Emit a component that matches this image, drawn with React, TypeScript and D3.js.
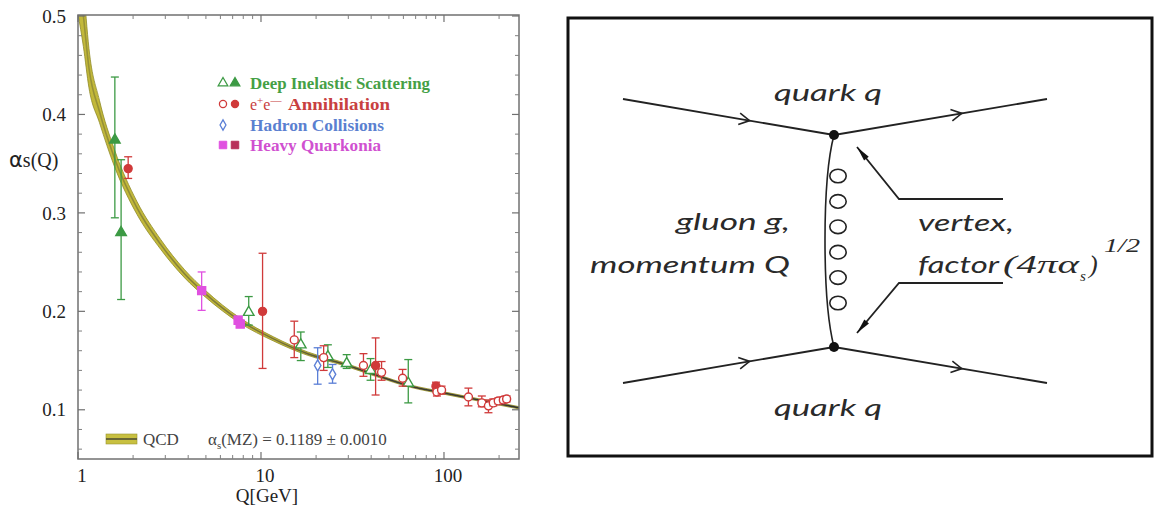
import React from 'react';
import * as d3 from 'd3';

// ---------- data ----------
const yTickValues = [0.1, 0.2, 0.3, 0.4, 0.5];
const yTickLabels = ['0.1', '0.2', '0.3', '0.4', '0.5'];
const xTickValues = [1, 10, 100];
const xTickLabels = ['1', '10', '100'];

// QCD running coupling band (centre and half-width)
const qcdQ = [1.0, 1.07, 1.148, 1.31, 1.58, 2.1, 2.83, 3.83, 4.96, 7.62, 11.7, 18, 27.7, 42.7, 65.6, 100, 155, 257];
const qcdAlpha = [0.545, 0.5, 0.447, 0.403, 0.356, 0.305, 0.268, 0.238, 0.218, 0.191, 0.172, 0.157, 0.147, 0.135, 0.124, 0.117, 0.11, 0.102];
const qcdHalf = [0.043, 0.031, 0.02, 0.0113, 0.0086, 0.0065, 0.005, 0.0041, 0.0034, 0.0027, 0.0021, 0.0017, 0.0015, 0.0013, 0.0012, 0.0012, 0.0012, 0.0012];

// [Q, alpha, errLow, errHigh, filled(1)/open(0)]
const disPoints = [
  [1.59, 0.374, 0.295, 0.438, 1],
  [1.72, 0.28, 0.212, 0.354, 1],
  [8.57, 0.199, 0.186, 0.215, 0],
  [16.5, 0.166, 0.15, 0.179, 0],
  [23.2, 0.154, 0.143, 0.166, 0],
  [29.4, 0.147, 0.142, 0.156, 0],
  [39.7, 0.14, 0.13, 0.152, 0],
  [63.8, 0.127, 0.107, 0.151, 0],
];
const eePoints = [
  [1.88, 0.345, 0.335, 0.357, 1],
  [10.2, 0.2, 0.142, 0.259, 1],
  [15.2, 0.171, 0.153, 0.19, 0],
  [22.0, 0.153, 0.14, 0.165, 0],
  [36.3, 0.145, 0.134, 0.157, 0],
  [42.3, 0.145, 0.115, 0.173, 1],
  [45.6, 0.138, 0.13, 0.149, 0],
  [59.4, 0.132, 0.124, 0.141, 0],
  [90.4, 0.124, 0.12, 0.128, 1],
  [91.5, 0.118, 0.114, 0.123, 0],
  [97, 0.12, 0.116, 0.124, 0],
  [136, 0.113, 0.104, 0.122, 0],
  [161, 0.107, 0.103, 0.114, 0],
  [175, 0.104, 0.097, 0.11, 0],
  [186, 0.107, 0.104, 0.111, 0],
  [198, 0.109, 0.106, 0.112, 0],
  [211, 0.11, 0.107, 0.113, 0],
  [220, 0.111, 0.108, 0.114, 0],
];
const hadronPoints = [
  [20.4, 0.145, 0.126, 0.163, 0],
  [24.6, 0.136, 0.127, 0.146, 0],
];
const quarkoniaPoints = [
  [4.74, 0.221, 0.201, 0.24, 1],
  [7.5, 0.191, 0.187, 0.195, 1],
  [7.7, 0.187, 0.184, 0.191, 1],
];

const legendLabels = ['Deep Inelastic Scattering', 'Annihilation', 'Hadron Collisions', 'Heavy Quarkonia'];

const GREEN = '#3c9a44';
const RED = '#d03a3a';
const BLUE = '#5b7fd6';
const MAGENTA = '#e050e0';

const SERIF = '"Liberation Serif", "Times New Roman", serif';
const SANS_IT = 'Lato, "Open Sans", sans-serif';

function ErrPoint({ d, color, shape, x, y }: any) {
  const [q, a, lo, hi, filled] = d;
  const cx = x(q);
  const cy = y(a);
  const sym = d3.symbol().type(shape === 'tri' ? d3.symbolTriangle : shape === 'dia' ? d3.symbolDiamond : shape === 'sq' ? d3.symbolSquare : d3.symbolCircle)
    .size(shape === 'tri' ? 48 : shape === 'dia' ? 36 : shape === 'sq' ? 64 : 50)();
  const cap = 4;
  return (
    <g>
      <line x1={cx} x2={cx} y1={y(lo)} y2={y(hi)} stroke={color} strokeWidth={1.3} />
      <line x1={cx - cap} x2={cx + cap} y1={y(lo)} y2={y(lo)} stroke={color} strokeWidth={1.3} />
      <line x1={cx - cap} x2={cx + cap} y1={y(hi)} y2={y(hi)} stroke={color} strokeWidth={1.3} />
      <path d={sym as string} transform={`translate(${cx},${cy})`} fill={filled ? color : '#fff'} stroke={color} strokeWidth={1.4} />
    </g>
  );
}

function chevron(px: number, py: number, ang: number, L: number, phi: number) {
  const a1 = ang + Math.PI - phi;
  const a2 = ang + Math.PI + phi;
  return `M${px + L * Math.cos(a1)},${py + L * Math.sin(a1)} L${px},${py} L${px + L * Math.cos(a2)},${py + L * Math.sin(a2)}`;
}
function headTri(px: number, py: number, ang: number, L: number, w: number) {
  const bx = px - L * Math.cos(ang);
  const by = py - L * Math.sin(ang);
  const nx = -Math.sin(ang) * w;
  const ny = Math.cos(ang) * w;
  return `M${px},${py} L${bx + nx},${by + ny} L${bx - nx},${by - ny} Z`;
}

export default function App() {
  const x = d3.scaleLog().domain([1, 257]).range([78, 519]);
  const y = d3.scaleLinear().domain([0.05, 0.5]).range([459, 16]);
  const left = 78, right = 519, top = 15, bottom = 459;

  const qcd = qcdQ.map((q, i) => ({ q, a: qcdAlpha[i], h: qcdHalf[i] }));
  const area = d3.area<any>().x((d) => x(d.q)).y0((d) => y(d.a - d.h)).y1((d) => y(d.a + d.h)).curve(d3.curveMonotoneX);
  const line = d3.line<any>().x((d) => x(d.q)).y((d) => y(d.a)).curve(d3.curveMonotoneX);

  const yMinor = d3.range(3, 25).map((i) => +(i * 0.02).toFixed(2)).filter((v) => Math.abs(v * 10 - Math.round(v * 10)) > 1e-6);
  const xMinor: number[] = [];
  [1, 10, 100].forEach((dec) => { for (let k = 2; k <= 9; k++) if (k * dec < 257) xMinor.push(k * dec); });

  // Feynman diagram geometry
  const quarkLines = [
    [623, 99, 834, 135],
    [834, 135, 1047, 99],
    [623, 383, 834, 347],
    [834, 347, 1047, 383],
  ];
  const loopsY = [176, 201.4, 226.8, 252.2, 277.6, 303];
  const pointers = [
    [1003, 199, 899, 199, 857, 147],
    [1003, 283, 899, 283, 857, 333],
  ];

  const legendY = [83, 104, 125, 145];
  const tri = d3.symbol().type(d3.symbolTriangle).size(40)() as string;
  const circ = d3.symbol().type(d3.symbolCircle).size(40)() as string;
  const dia = d3.symbol().type(d3.symbolDiamond).size(30)() as string;
  const sq = d3.symbol().type(d3.symbolSquare).size(56)() as string;

  return (
    <svg width={1163} height={510} style={{ position: 'absolute', left: 0, top: 0, background: '#fff' }}>
      <rect x={0} y={0} width={1163} height={510} fill="#fff" />
      <defs>
        <clipPath id="plotClip"><rect x={left} y={top} width={right - left} height={bottom - top} /></clipPath>
        <linearGradient id="lineGrad" gradientUnits="userSpaceOnUse" x1={left} x2={right} y1={0} y2={0}>
          <stop offset="0" stopColor="#9a9436" />
          <stop offset="0.45" stopColor="#76733a" />
          <stop offset="0.65" stopColor="#3e3e36" />
          <stop offset="1" stopColor="#333333" />
        </linearGradient>
      </defs>

      {/* ---------- left chart ---------- */}
      <g clipPath="url(#plotClip)">
        <path d={area(qcd) as string} fill="#c2b83a" stroke="#8f8a28" strokeWidth={0.8} />
        <path d={line(qcd) as string} fill="none" stroke="url(#lineGrad)" strokeWidth={1.6} />
      </g>

      {/* frame */}
      <rect x={left} y={top} width={right - left} height={bottom - top} fill="none" stroke="#707070" strokeWidth={1.5} />
      {yTickValues.map((v) => (
        <g key={'yt' + v}>
          <line x1={left} x2={left + 7} y1={y(v)} y2={y(v)} stroke="#707070" strokeWidth={1.2} />
          <line x1={right} x2={right - 7} y1={y(v)} y2={y(v)} stroke="#707070" strokeWidth={1.2} />
        </g>
      ))}
      {yMinor.map((v) => (
        <g key={'ym' + v}>
          <line x1={left} x2={left + 4} y1={y(v)} y2={y(v)} stroke="#808080" strokeWidth={1} />
          <line x1={right} x2={right - 4} y1={y(v)} y2={y(v)} stroke="#808080" strokeWidth={1} />
        </g>
      ))}
      {xTickValues.map((v) => (
        <g key={'xt' + v}>
          <line x1={x(v)} x2={x(v)} y1={bottom} y2={bottom - 7} stroke="#707070" strokeWidth={1.2} />
          <line x1={x(v)} x2={x(v)} y1={top} y2={top + 7} stroke="#707070" strokeWidth={1.2} />
        </g>
      ))}
      {xMinor.map((v) => (
        <g key={'xm' + v}>
          <line x1={x(v)} x2={x(v)} y1={bottom} y2={bottom - 4} stroke="#808080" strokeWidth={1} />
          <line x1={x(v)} x2={x(v)} y1={top} y2={top + 4} stroke="#808080" strokeWidth={1} />
        </g>
      ))}
      {yTickValues.map((v, i) => (
        <text key={'yl' + v} x={66} y={y(v)} dy="0.35em" textAnchor="end" fontFamily={SERIF} fontSize={19} fill="#222">{yTickLabels[i]}</text>
      ))}
      {xTickValues.map((v, i) => (
        <text key={'xl' + v} x={x(v) + 4} y={482} textAnchor="middle" fontFamily={SERIF} fontSize={19} fill="#222">{xTickLabels[i]}</text>
      ))}
      <text x={267} y={502} textAnchor="middle" fontFamily={SERIF} fontSize={19} fill="#222">Q[GeV]</text>
      <text x={9} y={167} fontFamily={SERIF} fontSize={20} fill="#222">
        <tspan fontFamily='"DejaVu Sans", sans-serif' fontSize={21}>α</tspan>s(Q)
      </text>

      {/* data */}
      {disPoints.map((d, i) => <ErrPoint key={'dis' + i} d={d} color={GREEN} shape="tri" x={x} y={y} />)}
      {hadronPoints.map((d, i) => <ErrPoint key={'had' + i} d={d} color={BLUE} shape="dia" x={x} y={y} />)}
      {quarkoniaPoints.map((d, i) => <ErrPoint key={'qk' + i} d={d} color={MAGENTA} shape="sq" x={x} y={y} />)}
      {eePoints.map((d, i) => <ErrPoint key={'ee' + i} d={d} color={RED} shape="circ" x={x} y={y} />)}

      {/* legend */}
      <g>
        <path d={tri} transform={`translate(223,${legendY[0]})`} fill="#fff" stroke={GREEN} strokeWidth={1.3} />
        <path d={tri} transform={`translate(235,${legendY[0]})`} fill={GREEN} stroke={GREEN} strokeWidth={1.3} />
        <text x={250} y={legendY[0]} dy="0.35em" fontFamily={SERIF} fontSize={16} fontWeight="bold" fill="#45a045" textLength={180} lengthAdjust="spacingAndGlyphs">{legendLabels[0]}</text>

        <path d={circ} transform={`translate(223,${legendY[1]})`} fill="#fff" stroke={RED} strokeWidth={1.3} />
        <path d={circ} transform={`translate(235,${legendY[1]})`} fill={RED} stroke={RED} strokeWidth={1.3} />
        <text x={250} y={legendY[1]} dy="0.35em" fontFamily={SERIF} fontSize={16} fill="#c84040">
          e<tspan dy="-6" fontSize={11}>+</tspan><tspan dy="6">e</tspan><tspan dy="-6" fontSize={11}>—</tspan>
        </text>
        <text x={288} y={legendY[1]} dy="0.35em" fontFamily={SERIF} fontSize={16} fontWeight="bold" fill="#c84040" textLength={102} lengthAdjust="spacingAndGlyphs">{legendLabels[1]}</text>

        <path d={dia} transform={`translate(223,${legendY[2]})`} fill="#fff" stroke={BLUE} strokeWidth={1.3} />
        <text x={250} y={legendY[2]} dy="0.35em" fontFamily={SERIF} fontSize={16} fontWeight="bold" fill="#5a80d0" textLength={134} lengthAdjust="spacingAndGlyphs">{legendLabels[2]}</text>

        <path d={sq} transform={`translate(223,${legendY[3]})`} fill={MAGENTA} stroke={MAGENTA} strokeWidth={1} />
        <path d={sq} transform={`translate(235,${legendY[3]})`} fill="#b8305a" stroke="#b8305a" strokeWidth={1} />
        <text x={250} y={legendY[3]} dy="0.35em" fontFamily={SERIF} fontSize={16} fontWeight="bold" fill="#d050d0" textLength={131} lengthAdjust="spacingAndGlyphs">{legendLabels[3]}</text>
      </g>

      {/* QCD legend */}
      <rect x={106} y={434} width={31} height={10} fill="#c8c040" stroke="#9a9430" strokeWidth={0.6} />
      <line x1={106} x2={137} y1={439} y2={439} stroke="#4a4a30" strokeWidth={1.5} />
      <text x={143} y={445} fontFamily={SERIF} fontSize={17} fill="#444">QCD</text>
      <text x={208} y={445} fontFamily={SERIF} fontSize={17} fill="#444">
        α<tspan dy="4" fontSize={11}>s</tspan><tspan dy="-4">(MZ) = 0.1189 ± 0.0010</tspan>
      </text>

      {/* ---------- right: Feynman diagram ---------- */}
      <rect x={568} y={18} width={584} height={438} fill="none" stroke="#111" strokeWidth={3} />
      {quarkLines.map((l, i) => {
        const [x1, y1, x2, y2] = l;
        const ang = Math.atan2(y2 - y1, x2 - x1);
        const px = x1 + 0.6 * (x2 - x1);
        const py = y1 + 0.6 * (y2 - y1);
        return (
          <g key={'ql' + i}>
            <line x1={x1} y1={y1} x2={x2} y2={y2} stroke="#222" strokeWidth={1.8} />
            <path d={chevron(px, py, ang, 12, 0.5)} fill="none" stroke="#222" strokeWidth={1.6} />
          </g>
        );
      })}
      <path d="M834,135 C822,180 822,300 834,347" fill="none" stroke="#222" strokeWidth={1.6} />
      {loopsY.map((ly, i) => (
        <ellipse key={'lp' + i} cx={838} cy={ly} rx={8.2} ry={6.8} fill="none" stroke="#222" strokeWidth={1.6} />
      ))}
      <circle cx={834} cy={135} r={5} fill="#111" />
      <circle cx={834} cy={347} r={5} fill="#111" />
      {pointers.map((p, i) => {
        const [x1, y1, x2, y2, x3, y3] = p;
        const ang = Math.atan2(y3 - y2, x3 - x2);
        return (
          <g key={'pt' + i}>
            <polyline points={`${x1},${y1} ${x2},${y2} ${x3},${y3}`} fill="none" stroke="#222" strokeWidth={1.8} />
            <path d={headTri(x3, y3, ang, 15, 3)} fill="#111" />
          </g>
        );
      })}
      <g fontFamily={SANS_IT} fontStyle="italic" fontSize={24} fill="#2a2a2a">
        <text x={774} y={101} textLength={108} lengthAdjust="spacingAndGlyphs">quark q</text>
        <text x={774} y={416} textLength={108} lengthAdjust="spacingAndGlyphs">quark q</text>
        <text x={676} y={230} textLength={114} lengthAdjust="spacingAndGlyphs">gluon g,</text>
        <text x={590} y={273} textLength={200} lengthAdjust="spacingAndGlyphs">momentum Q</text>
        <text x={918} y={231} textLength={96} lengthAdjust="spacingAndGlyphs">vertex,</text>
        <text x={918} y={273} textLength={81} lengthAdjust="spacingAndGlyphs">factor</text>
      </g>
      <g fontFamily={SERIF} fontStyle="italic" fontSize={26} fill="#2a2a2a">
        <text x={1003} y={273} textLength={76} lengthAdjust="spacingAndGlyphs">(4πα</text>
        <text x={1080} y={281} fontSize={15}>s</text>
        <text x={1089} y={273}>)</text>
        <text x={1104} y={252} fontSize={18} textLength={36} lengthAdjust="spacingAndGlyphs">1/2</text>
      </g>
    </svg>
  );
}
